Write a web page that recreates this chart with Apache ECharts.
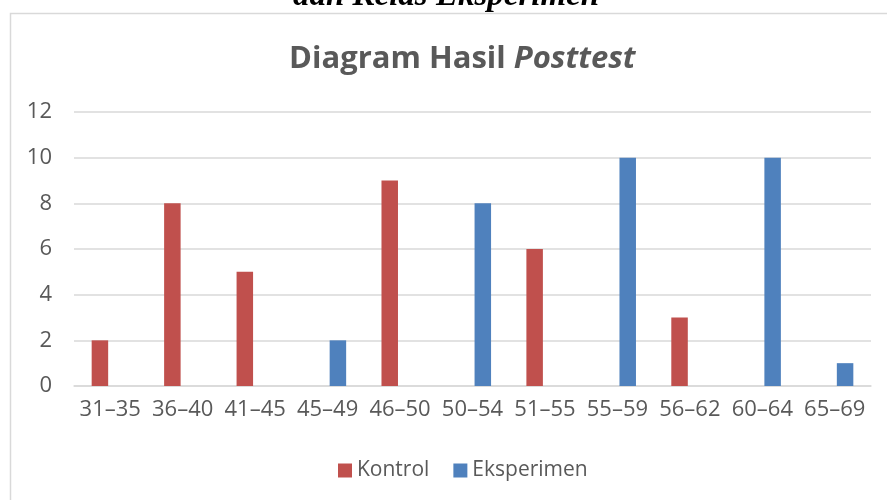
<!DOCTYPE html>
<html>
<head>
<meta charset="utf-8">
<script src="https://cdn.jsdelivr.net/npm/echarts@6/dist/echarts.min.js"></script>
<style>
html,body{margin:0;padding:0;background:#fff;}
#c{width:887px;height:500px;}
</style>
</head>
<body>
<div id="c"></div>
<script>
const categories = ['31–35','36–40','41–45','45–49','46–50','50–54','51–55','55–59','56–62','60–64','65–69'];
const kontrol =    [2, 8, 5, '-', 9, '-', 6, '-', 3, '-', '-'];
const eksperimen = ['-', '-', '-', 2, '-', 8, '-', 10, '-', 10, 1];
const yTicks = {min: 0, max: 12, interval: 2};

const chart = echarts.init(document.getElementById('c'), null, {renderer: 'canvas'});
const txt = '#595959';
const font = '"Open Sans", sans-serif';
chart.setOption({
  animation: false,
  backgroundColor: '#fff',
  title: {
    text: '{a|Diagram Hasil }{b|Posttest}',
    left: 284,
    top: 39,
    textStyle: {
      rich: {
        a: {fontFamily: font, fontSize: 31, fontWeight: 'bold', color: txt},
        b: {fontFamily: font, fontSize: 31, fontWeight: 'bold', fontStyle: 'italic', color: txt}
      }
    }
  },
  graphic: [
    {type: 'rect', shape: {x: 10.5, y: 13.5, width: 900, height: 600}, style: {fill: null, stroke: '#d9d9d9', lineWidth: 1.5}, silent: true},
    {type: 'text', x: 446, y: -4, silent: true,
     style: {text: 'dan Kelas Eksperimen', fontFamily: '"Liberation Serif", serif', fontStyle: 'italic', fontWeight: 'bold', fontSize: 33, fill: '#000', align: 'center', verticalAlign: 'middle'}}
  ],
  legend: {
    bottom: 14,
    left: 333,
    itemWidth: 14,
    itemHeight: 14,
    itemGap: 24,
    icon: 'rect',
    textStyle: {fontFamily: font, fontSize: 21, color: txt},
    data: ['Kontrol', 'Eksperimen']
  },
  grid: {left: 74, right: 16, top: 112, bottom: 114},
  xAxis: {
    type: 'category',
    data: categories,
    axisLine: {lineStyle: {color: '#d9d9d9', width: 1.5}},
    axisTick: {show: false},
    axisLabel: {fontFamily: font, fontSize: 22, color: txt, margin: 13, interval: 0}
  },
  yAxis: {
    type: 'value',
    min: yTicks.min, max: yTicks.max, interval: yTicks.interval,
    axisLine: {show: false},
    axisTick: {show: false},
    splitLine: {lineStyle: {color: '#d9d9d9', width: 1.5}},
    axisLabel: {fontFamily: font, fontSize: 22, color: txt, margin: 22}
  },
  series: [
    {name: 'Kontrol', type: 'bar', data: kontrol, barWidth: 16.5, barGap: '25%', itemStyle: {color: '#C0504D'}},
    {name: 'Eksperimen', type: 'bar', data: eksperimen, barWidth: 16.5, barGap: '25%', itemStyle: {color: '#4F81BD'}}
  ]
});
</script>
</body>
</html>
